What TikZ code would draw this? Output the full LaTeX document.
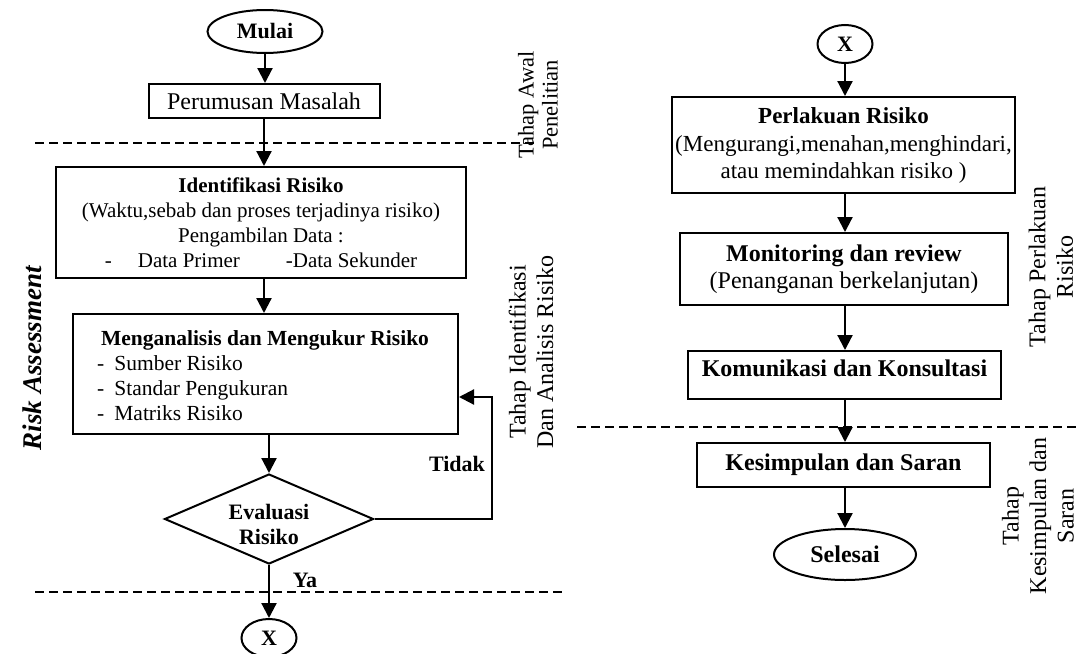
\documentclass[tikz,border=0pt]{standalone}
\usepackage{fontspec}
\setmainfont{Liberation Serif}
\usetikzlibrary{shapes.geometric,arrows.meta}
\begin{document}
\begin{tikzpicture}[x=1pt,y=-1pt,
  font=\fontsize{22}{25}\selectfont,
  box/.style={draw, line width=2pt, inner sep=0pt},
  arr/.style={line width=2.2pt, -{Triangle[length=15pt,width=15pt]}},
  sep/.style={line width=1.5pt, dash pattern=on 9pt off 5pt},
  big/.style={font=\fontsize{24}{27}\selectfont},
  lab/.style={rotate=90, align=center, inner sep=0pt, font=\fontsize{24}{27.5}\selectfont}]
\useasboundingbox (0,0) rectangle (1078,653);
\fill[white] (0,0) rectangle (1078,653);

% ---- left column ----
\node[box, ellipse, minimum width=115pt, minimum height=43pt] (mulai) at (265,31.5) {\textbf{Mulai}};
\node[box, big, minimum width=231pt, minimum height=34pt] (rumus) at (264,101) {Perumusan Masalah};
\node[box, minimum width=410pt, minimum height=111pt, align=center, font=\fontsize{21}{25}\selectfont] (ident) at (261,222.5)
  {\textbf{Identifikasi Risiko}\\(Waktu,sebab dan proses terjadinya risiko)\\Pengambilan Data :\\-\hspace{26pt}Data Primer\hspace{46pt}-Data Sekunder};
\node[box, minimum width=385pt, minimum height=120pt] (anal) at (265.5,374) {};
\node[inner sep=0pt, font=\fontsize{21.5}{25}\selectfont] (analh) at (265,340) {\textbf{Menganalisis dan Mengukur Risiko}};
\node[anchor=west, align=left, inner sep=0pt, font=\fontsize{21.5}{25}\selectfont] (analb) at (97,388)
  {-\hspace{10pt}Sumber Risiko\\-\hspace{10pt}Standar Pengukuran\\-\hspace{10pt}Matriks Risiko};
\node[box, diamond, minimum width=209pt, minimum height=90pt] (eval) at (269,519) {};
\node[align=center, inner sep=0pt] (evalt) at (269,524) {\textbf{Evaluasi}\\\textbf{Risiko}};
\node[box, ellipse, minimum width=55pt, minimum height=38pt] (xa) at (269,638) {\textbf{X}};

\node[inner sep=0pt] (tidak) at (457,464) {\textbf{Tidak}};
\node[inner sep=0pt] (ya) at (305,580) {\textbf{Ya}};
\node[rotate=90, inner sep=0pt, font=\fontsize{27}{28}\selectfont] (ra) at (32,358) {\textbf{\textit{Risk Assessment}}};

\draw[arr] (mulai.south) -- (mulai.south |- rumus.north);
\draw[arr] (rumus.south) -- (rumus.south |- ident.north);
\draw[arr] (rumus.south |- ident.south) -- (rumus.south |- anal.north);
\draw[arr] (eval.north |- anal.south) -- (eval.north);
\draw[arr] (eval.south) -- (xa.north);
\coordinate (fb) at (492,397);
\draw[arr] (eval.east) -| (fb) -- (anal.east |- fb);

% separators
\coordinate (s1a) at (35,143);  \coordinate (s1b) at (535,143);
\coordinate (s2a) at (35,592);  \coordinate (s2b) at (565,592);
\coordinate (s3a) at (577,427); \coordinate (s3b) at (1078,427);
\draw[sep] (s1a) -- (s1b);
\draw[sep] (s2a) -- (s2b);
\draw[sep] (s3a) -- (s3b);

\node[lab, font=\fontsize{22.5}{24}\selectfont] (l1) at (538,105) {Tahap Awal\\Penelitian};
\node[lab] (l2) at (531,352) {Tahap Identifikasi\\Dan Analisis Risiko};

% ---- right column ----
\node[box, ellipse, minimum width=55pt, minimum height=38pt] (xb) at (845,44) {\textbf{X}};
\node[box, minimum width=343pt, minimum height=96pt, align=center, font=\fontsize{23}{26.5}\selectfont] (perl) at (843.5,145)
  {\textbf{Perlakuan Risiko}\\[2pt](Mengurangi,menahan,menghindari,\\atau memindahkan risiko )};
\node[box, big, minimum width=328pt, minimum height=72pt, align=center] (mon) at (844,269)
  {\textbf{Monitoring dan review}\\(Penanganan berkelanjutan)};
\node[box, minimum width=313pt, minimum height=48pt] (kom) at (844.5,375) {};
\node[inner sep=0pt, big] (komt) at (844.5,368) {\textbf{Komunikasi dan Konsultasi}};
\node[box, big, minimum width=293pt, minimum height=44pt] (kes) at (843.5,465) {\textbf{Kesimpulan dan Saran}};
\node[box, big, ellipse, minimum width=142pt, minimum height=51pt] (sel) at (845,554.5) {\textbf{Selesai}};

\draw[arr] (xb.south) -- (xb.south |- perl.north);
\draw[arr] (xb.south |- perl.south) -- (xb.south |- mon.north);
\draw[arr] (xb.south |- mon.south) -- (xb.south |- kom.north);
\draw[arr] (xb.south |- kom.south) -- (xb.south |- kes.north);
\draw[arr] (xb.south |- kes.south) -- (xb.south |- sel.north);

\node[lab] (l3) at (1051,267) {Tahap Perlakuan\\Risiko};
\node[lab] (l4) at (1038,516) {Tahap\\Kesimpulan dan\\Saran};
\end{tikzpicture}
\end{document}
